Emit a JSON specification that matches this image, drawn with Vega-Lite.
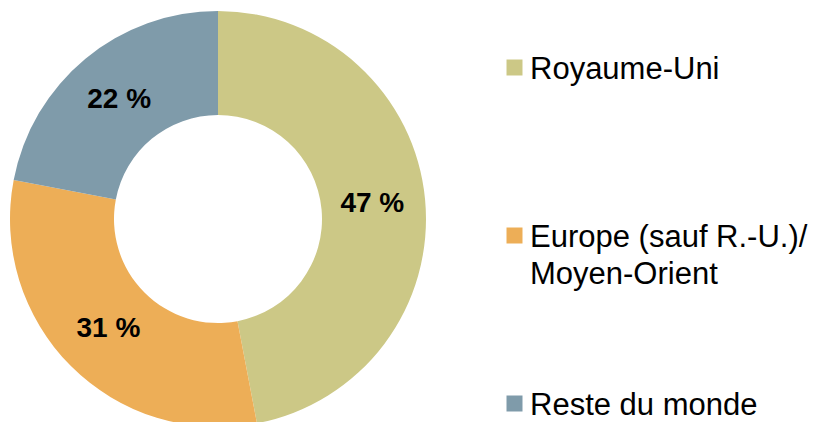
{
  "$schema": "https://vega.github.io/schema/vega-lite/v6.json",
  "width": 436,
  "height": 438,
  "padding": 0,
  "autosize": {"type": "pad"},
  "background": "white",
  "config": {"view": {"stroke": null}},
  "data": {
    "values": [
      {"region": "Royaume-Uni", "share": 47, "rank": 1, "label": "47 %"},
      {"region": "Europe (sauf R.-U.)/ Moyen-Orient", "share": 31, "rank": 2, "label": "31 %"},
      {"region": "Reste du monde", "share": 22, "rank": 3, "label": "22 %"}
    ]
  },
  "encoding": {
    "theta": {"field": "share", "type": "quantitative", "stack": true},
    "order": {"field": "rank", "type": "quantitative"}
  },
  "layer": [
    {
      "mark": {"type": "arc", "radius": 208, "radius2": 104},
      "encoding": {
        "color": {
          "field": "region",
          "type": "nominal",
          "scale": {
            "domain": ["Royaume-Uni", "Europe (sauf R.-U.)/ Moyen-Orient", "Reste du monde"],
            "range": ["#CCC886", "#EDAE57", "#7F9BAA"]
          },
          "legend": {
            "orient": "none",
            "legendX": 499,
            "legendY": 52,
            "title": null,
            "padding": 0,
            "symbolType": "square",
            "symbolSize": 256,
            "symbolStrokeWidth": 0,
            "labelFont": "Liberation Sans",
            "labelFontSize": 31,
            "labelColor": "black",
            "labelLimit": 0,
            "labelOffset": 0,
            "rowPadding": 98,
            "gridAlign": "all",
            "labelBaseline": "alphabetic",
            "labelExpr": "datum.label == 'Europe (sauf R.-U.)/ Moyen-Orient' ? ['Europe (sauf R.-U.)/', 'Moyen-Orient'] : datum.label",
            "encode": {
              "labels": {"update": {"dy": {"value": 11}, "lineHeight": {"value": 37}}}
            }
          }
        }
      }
    },
    {
      "mark": {
        "type": "text",
        "radius": 155,
        "font": "Liberation Sans",
        "fontWeight": "bold",
        "fontSize": 28,
        "color": "black"
      },
      "encoding": {"text": {"field": "label", "type": "nominal"}}
    }
  ]
}
